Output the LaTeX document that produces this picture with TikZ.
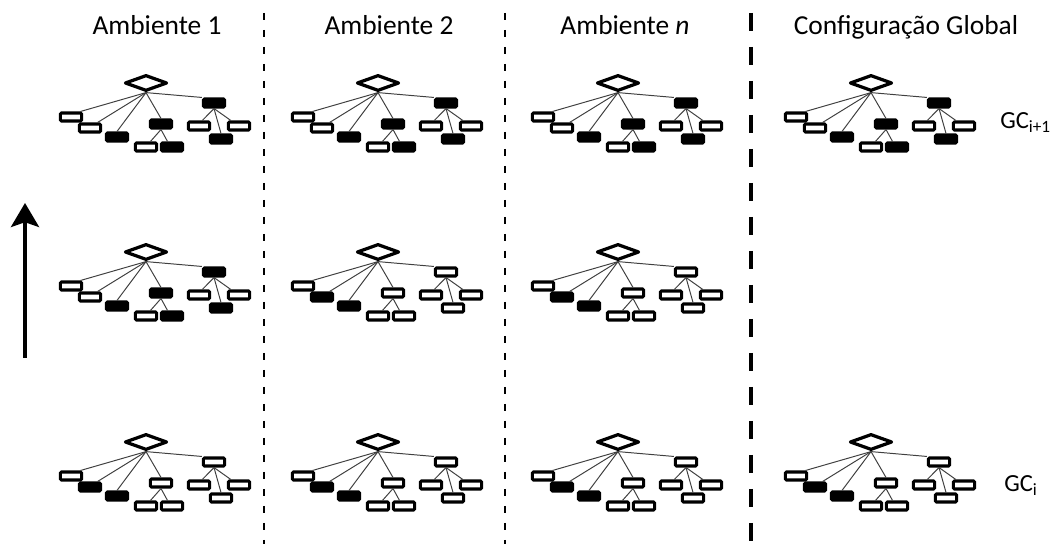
\documentclass[tikz,border=0pt]{standalone}
\usepackage{fontspec}
\setmainfont{Carlito}
\usetikzlibrary{shapes.geometric,arrows.meta}

\newcommand{\conftree}[3]{%
	\begin{scope}[shift={(#2)},#3]
		\path (0,0) node[root] (#1) {};
		\path (-1.875,-0.85) node[boxa] (#1a) {};
		\path (-1.4,-1.125) node[boxb] (#1b) {};
		\path (-0.725,-1.35) node[boxc] (#1c) {};
		\path (0.375,-1.025) node[boxd] (#1d) {};
		\path (0,-1.6) node[boxe] (#1e) {};
		\path (0.65,-1.6) node[boxf] (#1f) {};
		\path (1.7,-0.5) node[boxg] (#1g) {};
		\path (1.325,-1.075) node[boxh] (#1h) {};
		\path (1.875,-1.4) node[boxi] (#1i) {};
		\path (2.325,-1.075) node[boxj] (#1j) {};
		\draw[branch] (#1.south) -- (#1a.30);
		\draw[branch] (#1.south) -- (#1b.36);
		\draw[branch] (#1.south) -- (#1c.north);
		\draw[branch] (#1.south) -- (#1d.north);
		\draw[branch] (#1.south) -- (#1g.north west);
		\draw[branch] (#1d.south) -- (#1e.51);
		\draw[branch] (#1d.south) -- (#1f.129);
		\draw[branch] (#1g.south) -- (#1h.59);
		\draw[branch] (#1g.south) -- (#1i.north);
		\draw[branch] (#1g.south) -- (#1j.146);
	\end{scope}}

\begin{document}
\begin{tikzpicture}[
	root/.style={diamond,draw,fill=white,line width=2.3pt,line join=round,inner sep=0pt,minimum width=1.06cm,minimum height=0.4cm},
	cfgbox/.style={rectangle,draw,line width=2.2pt,rounded corners=0.8pt,inner sep=0pt,minimum width=0.53cm,minimum height=0.2cm},
	lightbox/.style={cfgbox,fill=white},
	darkbox/.style={cfgbox,fill=black},
	branch/.style={draw=black!75,line width=0.7pt},
	newcfg/.style={boxa/.style=lightbox,boxb/.style=lightbox,boxc/.style=darkbox,boxd/.style=darkbox,boxe/.style=lightbox,boxf/.style=darkbox,boxg/.style=darkbox,boxh/.style=lightbox,boxi/.style=darkbox,boxj/.style=lightbox},
	oldcfg/.style={boxa/.style=lightbox,boxb/.style=darkbox,boxc/.style=darkbox,boxd/.style=lightbox,boxe/.style=lightbox,boxf/.style=lightbox,boxg/.style=lightbox,boxh/.style=lightbox,boxi/.style=lightbox,boxj/.style=lightbox},
	head/.style={anchor=base,inner sep=0pt,font=\fontsize{19.5}{23}\selectfont},
	gclabel/.style={anchor=base west,inner sep=0pt,font=\fontsize{17.5}{21}\selectfont},
	thinsep/.style={line width=1.4pt,dash pattern=on 0.175cm off 0.25cm},
	thicksep/.style={line width=3.1pt,dash pattern=on 0.45cm off 0.4cm},
	timearrow/.style={line width=2.8pt,-{Stealth[length=0.6cm,width=0.7cm,inset=0.12cm]}}
	]
		\useasboundingbox (0,0) rectangle (26.45,13.6);
		
		\path (3.925,12.725) node[head] (amb1) {Ambiente 1};
		\path (9.725,12.725) node[head] (amb2) {Ambiente 2};
		\path (15.625,12.725) node[head] (ambn) {Ambiente \textit{n}};
		\path (22.65,12.725) node[head] (glob) {Configuração Global};
		
		\draw[thinsep] (6.6,13.28) -- (6.6,0);
		\draw[thinsep] (12.625,13.28) -- (12.625,0);
		\draw[thicksep] (18.775,13.28) -- (18.775,0);
		
		\conftree{amb1new}{3.65,11.525}{newcfg}
		\conftree{amb2new}{9.45,11.525}{newcfg}
		\conftree{ambnnew}{15.45,11.525}{newcfg}
		\conftree{globnew}{21.775,11.525}{newcfg}
		
		\conftree{amb1mid}{3.65,7.3}{newcfg}
		\conftree{amb2mid}{9.45,7.3}{oldcfg}
		\conftree{ambnmid}{15.45,7.3}{oldcfg}
		
		\conftree{amb1old}{3.65,2.55}{oldcfg}
		\conftree{amb2old}{9.45,2.55}{oldcfg}
		\conftree{ambnold}{15.45,2.55}{oldcfg}
		\conftree{globold}{21.775,2.55}{oldcfg}
		
		\path (25.0,10.375) node[gclabel] (gcnext) {GC\textsubscript{i+1}};
		\path (25.1,1.3) node[gclabel] (gccur) {GC\textsubscript{i}};
		
		\coordinate (tfrom) at (0.625,4.65);
		\coordinate (tto) at (0.625,8.525);
		\draw[timearrow] (tfrom) -- (tto);
		
	\end{tikzpicture}
\end{document}
